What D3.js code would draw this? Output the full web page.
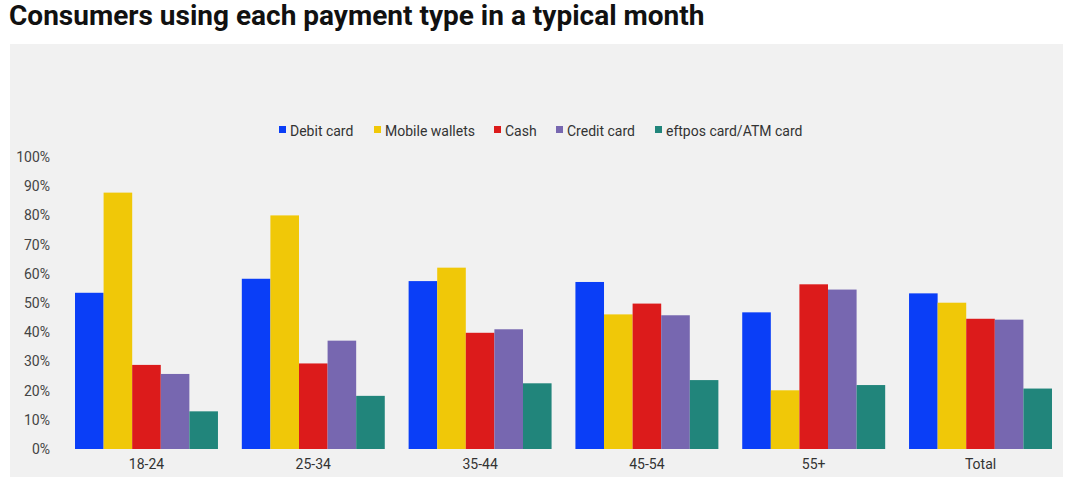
<!DOCTYPE html>
<html>
<head>
  <meta charset="utf-8">
  <title>Payment types</title>
  <script src="https://cdn.jsdelivr.net/npm/d3@7"></script>
  <style>
    body { margin: 0; background: #fff; font-family: Roboto, "Open Sans", sans-serif; }
  </style>
</head>
<body>
<script>
  // data
  var ageGroups = ["18-24", "25-34", "35-44", "45-54", "55+", "Total"];
  var seriesNames = ["Debit card", "Mobile wallets", "Cash", "Credit card", "eftpos card/ATM card"];
  var debitCard     = [53.5, 58.3, 57.5, 57.2, 46.8, 53.3];
  var mobileWallets = [87.8, 80.0, 62.1, 46.1, 20.1, 50.1];
  var cash          = [28.8, 29.3, 39.8, 49.8, 56.4, 44.6];
  var creditCard    = [25.7, 37.1, 41.0, 45.8, 54.6, 44.3];
  var eftposCard    = [12.9, 18.2, 22.5, 23.6, 21.9, 20.7];
  var yTicks = [0, 10, 20, 30, 40, 50, 60, 70, 80, 90, 100];

  var allSeries = [debitCard, mobileWallets, cash, creditCard, eftposCard];
  var colors = ["#0a3ef7", "#f0c808", "#dc1b1b", "#7767b0", "#21857b"];

  var width = 1078, height = 486;
  var svg = d3.select("body").append("svg").attr("width", width).attr("height", height);

  // title
  svg.append("text")
    .attr("x", 9).attr("y", 25)
    .attr("font-size", "28px").attr("font-weight", "bold")
    .attr("fill", "#111")
    .text("Consumers using each payment type in a typical month");

  // grey panel
  svg.append("rect")
    .attr("x", 10).attr("y", 44).attr("width", 1053).attr("height", 433)
    .attr("fill", "#f1f1f1");

  var plot = { left: 63, right: 1064, top: 157, bottom: 449 };

  var x0 = d3.scaleBand().domain(ageGroups)
    .range([plot.left, plot.right]).paddingInner(0.143).paddingOuter(0.072);
  var x1 = d3.scaleBand().domain(d3.range(seriesNames.length))
    .range([0, x0.bandwidth()]);
  var y = d3.scaleLinear().domain([0, 100]).range([plot.bottom, plot.top]);

  // y axis labels
  var yAxis = d3.axisLeft(y).tickValues(yTicks).tickSize(0).tickPadding(0)
    .tickFormat(function(d) { return d + "%"; });
  var gy = svg.append("g").attr("transform", "translate(50,0)").call(yAxis);
  gy.select(".domain").remove();
  gy.selectAll("text").attr("font-size", "14px").attr("fill", "#444")
    .attr("font-family", "Roboto, sans-serif");

  // bars
  var groups = svg.selectAll("g.grp").data(ageGroups).enter().append("g")
    .attr("class", "grp")
    .attr("transform", function(d) { return "translate(" + x0(d) + ",0)"; });

  groups.selectAll("rect")
    .data(function(d, i) { return allSeries.map(function(s, k) { return { k: k, v: s[i] }; }); })
    .enter().append("rect")
    .attr("x", function(d) { return x1(d.k); })
    .attr("width", x1.bandwidth())
    .attr("y", function(d) { return y(d.v); })
    .attr("height", function(d) { return y(0) - y(d.v); })
    .attr("fill", function(d) { return colors[d.k]; });

  // x axis labels
  var xAxis = d3.axisBottom(x0).tickSize(0).tickPadding(10);
  var gx = svg.append("g").attr("transform", "translate(0," + plot.bottom + ")").call(xAxis);
  gx.select(".domain").remove();
  gx.selectAll("text").attr("font-size", "14px").attr("fill", "#333")
    .attr("font-family", "Roboto, sans-serif");

  // legend
  var legendX = [279, 374, 494, 556, 655];
  var legend = svg.selectAll("g.leg").data(seriesNames).enter().append("g")
    .attr("class", "leg")
    .attr("transform", function(d, i) { return "translate(" + legendX[i] + ",126)"; });
  legend.append("rect").attr("width", 7).attr("height", 7)
    .attr("fill", function(d, i) { return colors[i]; });
  legend.append("text").attr("x", 11).attr("y", 9.5)
    .attr("font-size", "14px").attr("fill", "#333")
    .text(function(d) { return d; });
</script>
</body>
</html>
